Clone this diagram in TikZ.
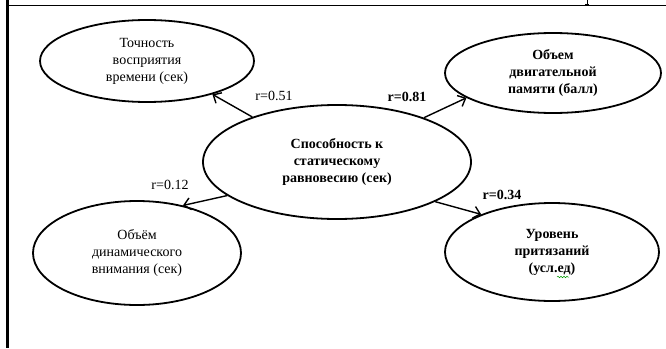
\documentclass[tikz,border=0pt]{standalone}
\usepackage{fontspec}
\setmainfont{Liberation Serif}
\usetikzlibrary{arrows.meta,shapes.geometric,decorations.pathmorphing}
\begin{document}
\begin{tikzpicture}[x=1pt,y=-1pt,
  oval/.style={ellipse, draw, line width=1.8pt, inner sep=0pt, align=center,
    font=\fontsize{14}{17}\selectfont},
  boldoval/.style={oval, font=\fontsize{14}{17}\selectfont\bfseries},
  link/.style={line width=1.4pt,
    -{Straight Barb[length=6.5pt,width=12pt,line width=1.4pt]}},
  rlabel/.style={inner sep=0pt, font=\fontsize{14}{17}\selectfont},
  boldlabel/.style={rlabel, font=\fontsize{14}{17}\selectfont\bfseries}]
\useasboundingbox (0,0) rectangle (666,348);

% page frame
\draw[line width=2.4pt] (7.5,0) -- (7.5,348);
\draw[line width=0.9pt] (8,5.5) -- (666,5.5);
\draw[line width=1.6pt] (8,5.5) -- (26,5.5);
\draw[line width=0.9pt] (587,0) -- (587,4.5) (585,4.5) -- (589,4.5);

% ovals
\node[boldoval, minimum width=268pt, minimum height=114pt] (core) at (337,162)
  {Способность к\\статическому\\равновесию (сек)};
\node[oval, minimum width=214pt, minimum height=82pt] (time) at (147,61)
  {Точность\\восприятия\\времени (сек)};
\node[boldoval, minimum width=216pt, minimum height=80pt] (motor) at (553,73)
  {Объем\\двигательной\\памяти (балл)};
\node[oval, minimum width=208pt, minimum height=104pt] (attn) at (137,253)
  {Объём\\динамического\\внимания (сек)};
\node[boldoval, minimum width=214pt, minimum height=98pt] (claim) at (552,252)
  {Уровень\\притязаний\\(усл.ед)};

% spell-check squiggle under the last word
\draw[green!60!black, line width=0.5pt,
  decorate, decoration={snake, amplitude=0.8pt, segment length=3pt}]
  (557,277) -- (569,277);

% correlations
\draw[link] (core.152) -- (time.333);
\draw[link] (core.27) -- (motor.196);
\draw[link] (core.197) -- (attn.46);
\draw[link] (core.338) -- (claim.152);

\node[rlabel] (r1) at (274,96) {r=0.51};
\node[boldlabel] (r2) at (407,97) {r=0.81};
\node[rlabel] (r3) at (170,185) {r=0.12};
\node[boldlabel] (r4) at (502,195) {r=0.34};
\end{tikzpicture}
\end{document}
